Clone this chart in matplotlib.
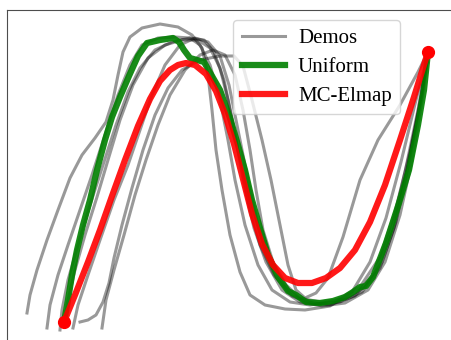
import numpy as np
import matplotlib.pyplot as plt

# demos (x right, y down)
demo_1 = [(27, 313), (30, 295), (37, 270), (47, 240), (58, 210), (70, 178), (82, 155),
          (95, 138), (106, 122), (113, 100), (118, 75), (123, 52), (130, 37), (142, 28),
          (160, 24), (178, 27), (192, 35), (202, 48), (208, 75), (212, 110), (216, 150),
          (222, 190), (230, 235), (240, 272), (250, 295), (265, 305), (285, 309),
          (305, 310), (330, 306), (352, 292), (370, 262), (386, 218), (401, 162),
          (416, 100), (428, 55)]
demo_2 = [(47, 328), (50, 305), (58, 275), (68, 245), (80, 210), (92, 175), (105, 135),
          (118, 95), (130, 65), (142, 45), (158, 38), (175, 37), (190, 38), (200, 45),
          (210, 65), (220, 100), (228, 140), (235, 180), (245, 225), (258, 265),
          (272, 290), (290, 302), (310, 305), (335, 301), (360, 287), (380, 257),
          (395, 212), (410, 152), (422, 95), (428, 55)]
demo_3 = [(73, 328), (78, 305), (88, 275), (100, 240), (114, 200), (128, 165), (140, 130),
          (152, 95), (165, 65), (180, 45), (195, 38), (208, 42), (220, 56), (229, 85),
          (238, 130), (248, 180), (258, 225), (270, 262), (285, 288), (305, 302),
          (330, 305), (355, 296), (375, 272), (392, 227), (405, 172), (418, 110), (428, 55)]
demo_4 = [(80, 322), (88, 320), (96, 315), (103, 302), (109, 283), (114, 258), (122, 225),
          (132, 188), (143, 150), (155, 115), (168, 88), (182, 70), (200, 60), (220, 56),
          (234, 56), (243, 66), (252, 100), (262, 140), (271, 180), (280, 225),
          (288, 265), (296, 290), (305, 298), (316, 293), (328, 278), (343, 237),
          (360, 180), (378, 140), (400, 105), (418, 72), (428, 52)]
demo_5 = [(102, 328), (106, 300), (114, 270), (124, 235), (135, 195), (146, 160),
          (158, 125), (170, 95), (185, 70), (200, 55), (213, 50), (225, 55), (235, 75),
          (243, 110), (250, 150), (256, 190), (263, 230), (273, 262), (286, 285),
          (300, 298), (320, 302), (345, 299), (365, 287), (382, 262), (396, 222),
          (408, 167), (420, 105), (428, 55)]
demo_6 = [(64, 322), (68, 300), (75, 270), (85, 235), (97, 197), (108, 160), (120, 120),
          (133, 85), (148, 58), (165, 45), (182, 40), (198, 40), (210, 48), (220, 68),
          (228, 100), (236, 140), (244, 185), (254, 228), (266, 262), (282, 290),
          (300, 302), (322, 306), (345, 303), (368, 290), (385, 262), (400, 215),
          (412, 160), (422, 100), (428, 55)]
demo_7 = [(60, 330), (62, 310), (68, 280), (78, 245), (90, 205), (103, 165), (116, 125),
          (128, 92), (140, 68), (155, 50), (172, 42), (190, 38), (204, 40), (214, 52),
          (224, 80), (232, 118), (240, 160), (249, 205), (260, 245), (274, 275),
          (292, 296), (315, 304), (340, 302), (362, 292), (380, 268), (394, 228),
          (406, 175), (418, 112), (428, 55)]
demos = [demo_1, demo_2, demo_3, demo_4, demo_5, demo_6, demo_7]

uniform = [(64, 322), (68, 300), (72, 275), (77, 250), (83, 225), (90, 200), (97, 170),
           (105, 140), (112, 117), (120, 97), (129, 76), (138, 56), (147, 43), (160, 40),
           (173, 38), (179, 42), (184, 50), (190, 58), (197, 60), (204, 62), (212, 76),
           (220, 90), (230, 118), (238, 145), (245, 170), (252, 200), (260, 228),
           (268, 255), (278, 277), (288, 291), (296, 295), (306, 302), (320, 303),
           (333, 301), (345, 297), (353, 292), (360, 287), (366, 286), (373, 277),
           (386, 243), (399, 203), (409, 170), (418, 125), (424, 90), (428, 52)]
mc_elmap = [(64, 322), (75, 295), (88, 262), (100, 230), (112, 196), (125, 160),
            (138, 126), (150, 99), (160, 81), (170, 70), (178, 65), (186, 63), (195, 65),
            (206, 74), (216, 91), (225, 114), (234, 144), (243, 179), (252, 214),
            (262, 244), (273, 265), (285, 278), (298, 283), (312, 283), (326, 278),
            (340, 268), (355, 250), (370, 222), (385, 185), (400, 140), (414, 97),
            (428, 52)]

plt.rcParams['font.family'] = ['Liberation Serif', 'DejaVu Serif']

fig = plt.figure(figsize=(4.52, 3.40), dpi=100)
ax = fig.add_axes([7 / 452, -0.1, 1.2, 1 - 10 / 340 + 0.1])

for i, d in enumerate(demos):
    d = np.array(d)
    ax.plot(d[:, 0], d[:, 1], color='k', alpha=0.4, lw=2.2,
            label='Demos' if i == 0 else None)

u = np.array(uniform)
ax.plot(u[:, 0], u[:, 1], color='g', alpha=0.9, lw=4.5, label='Uniform')
m = np.array(mc_elmap)
ax.plot(m[:, 0], m[:, 1], color='r', alpha=0.9, lw=4.5, label='MC-Elmap')
ax.plot(m[[0, -1], 0], m[[0, -1], 1], 'o', color='r', ms=8.5)

ax.set_xlim(7, 7 + 1.2 * 452)
ax.set_ylim(374, 10)
ax.set_xticks([])
ax.set_yticks([])
for side in ['right', 'bottom']:
    ax.spines[side].set_visible(False)
for side in ['left', 'top']:
    ax.spines[side].set_color('0.3')

ax.legend(loc='upper right', bbox_to_anchor=(400 / 452, 1 - 20 / 340),
          bbox_transform=fig.transFigure, fontsize=15, handlelength=2.1,
          handletextpad=0.6, borderaxespad=0, labelspacing=0.45)

fig.savefig('out.png', dpi=100)
